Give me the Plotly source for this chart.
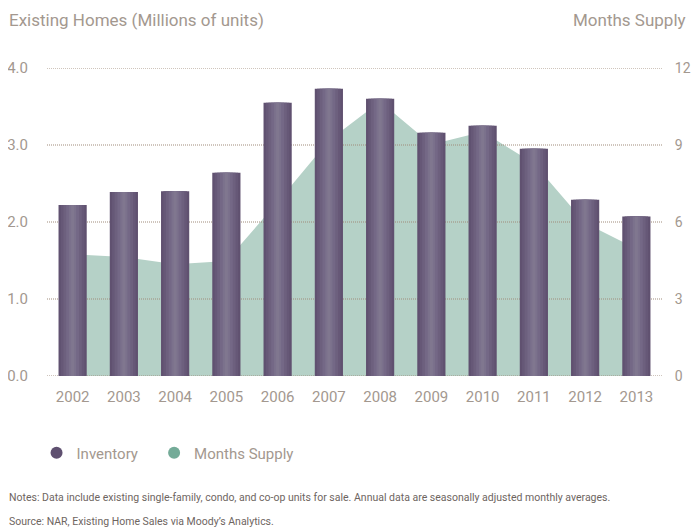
import plotly.graph_objects as go

years = ["2002", "2003", "2004", "2005", "2006", "2007", "2008", "2009", "2010", "2011", "2012", "2013"]
inventory = [2.22, 2.39, 2.40, 2.64, 3.55, 3.73, 3.60, 3.16, 3.25, 2.95, 2.29, 2.07]
months_supply = [4.74, 4.64, 4.35, 4.48, 6.78, 9.18, 10.69, 9.02, 9.52, 8.28, 5.96, 4.96]
left_ticks = [0, 1, 2, 3, 4]
right_ticks = [0, 3, 6, 9, 12]

FONT = "Roboto, Liberation Sans, sans-serif"
TXT = "#a3988f"
idx = list(range(len(years)))

fig = go.Figure()

# area (months supply) on main y axis (right side)
fig.add_trace(go.Scatter(
    x=idx, y=months_supply, mode="lines", fill="tozeroy",
    line=dict(width=0, color="#b5d1c7"), fillcolor="#b5d1c7",
    yaxis="y", showlegend=False, hoverinfo="skip"))

# dotted gridlines drawn above the area, below the bars
for v in right_ticks:
    fig.add_trace(go.Scatter(
        x=[-0.5, len(years) - 0.5], y=[v, v], mode="lines",
        line=dict(color="#9f8b7b", width=1, dash="1px,1px"),
        yaxis="y", showlegend=False, hoverinfo="skip"))

# bars with a cylindrical gradient (layered widths)
layers = [(0.55, "#605170"), (0.46, "#665877"), (0.36, "#6d607e"),
          (0.25, "#746886"), (0.14, "#7b718c"), (0.06, "#80778f")]
for w, c in layers:
    fig.add_trace(go.Bar(
        x=idx, y=inventory, width=w, marker=dict(color=c, line=dict(width=0)),
        yaxis="y2", showlegend=False, hoverinfo="skip"))

# legend entries
fig.add_trace(go.Scatter(x=[None], y=[None], mode="markers",
                         name="Inventory\u00a0\u00a0\u00a0",
                         marker=dict(symbol="circle", size=16, color="#5f5070")))
fig.add_trace(go.Scatter(x=[None], y=[None], mode="markers", name="Months Supply",
                         marker=dict(symbol="circle", size=16, color="#74ab98")))

fig.update_layout(
    width=691, height=523,
    margin=dict(l=39, r=37, t=60, b=155, autoexpand=False),
    paper_bgcolor="white", plot_bgcolor="white",
    barmode="overlay",
    font=dict(family=FONT, color=TXT, size=15),
    xaxis=dict(range=[-0.5, len(years) - 0.5], tickvals=idx, ticktext=years,
               showgrid=False, zeroline=False, showline=False,
               ticks="outside", ticklen=7, tickcolor="rgba(0,0,0,0)",
               tickfont=dict(size=15, color=TXT)),
    yaxis=dict(range=[0, 12], tickvals=right_ticks, side="right",
               showgrid=False, zeroline=False, showline=False,
               ticks="outside", ticklen=9, tickcolor="rgba(0,0,0,0)",
               tickfont=dict(size=14, color=TXT)),
    yaxis2=dict(range=[0, 4], tickvals=left_ticks,
                ticktext=[f"{v:.1f}" for v in left_ticks],
                overlaying="y", side="left",
                showgrid=False, zeroline=False, showline=False,
                ticks="outside", ticklen=15, tickcolor="rgba(0,0,0,0)",
                tickfont=dict(size=15, color=TXT)),
    legend=dict(orientation="h", x=-0.017, y=-0.25, xanchor="left", yanchor="middle",
                font=dict(size=15, color=TXT), itemsizing="constant",
                bgcolor="rgba(0,0,0,0)"),
    showlegend=True,
    annotations=[
        dict(text="Existing Homes (Millions of units)", xref="paper", yref="paper",
             x=-0.065, y=1.156, xanchor="left", yanchor="middle", showarrow=False,
             font=dict(size=17, color=TXT)),
        dict(text="Months Supply", xref="paper", yref="paper",
             x=1.043, y=1.156, xanchor="right", yanchor="middle", showarrow=False,
             font=dict(size=17, color=TXT)),
        dict(text="Notes: Data include existing single-family, condo, and co-op units for sale. "
                  "Annual data are seasonally adjusted monthly averages.",
             xref="paper", yref="paper", x=-0.065, y=-0.393, xanchor="left", yanchor="middle",
             showarrow=False, font=dict(size=10.5, color="#6e655f")),
        dict(text="Source: NAR, Existing Home Sales via Moody\u2019s Analytics.",
             xref="paper", yref="paper", x=-0.065, y=-0.471, xanchor="left", yanchor="middle",
             showarrow=False, font=dict(size=10.5, color="#6e655f")),
    ],
)

fig.write_html("out.html")
